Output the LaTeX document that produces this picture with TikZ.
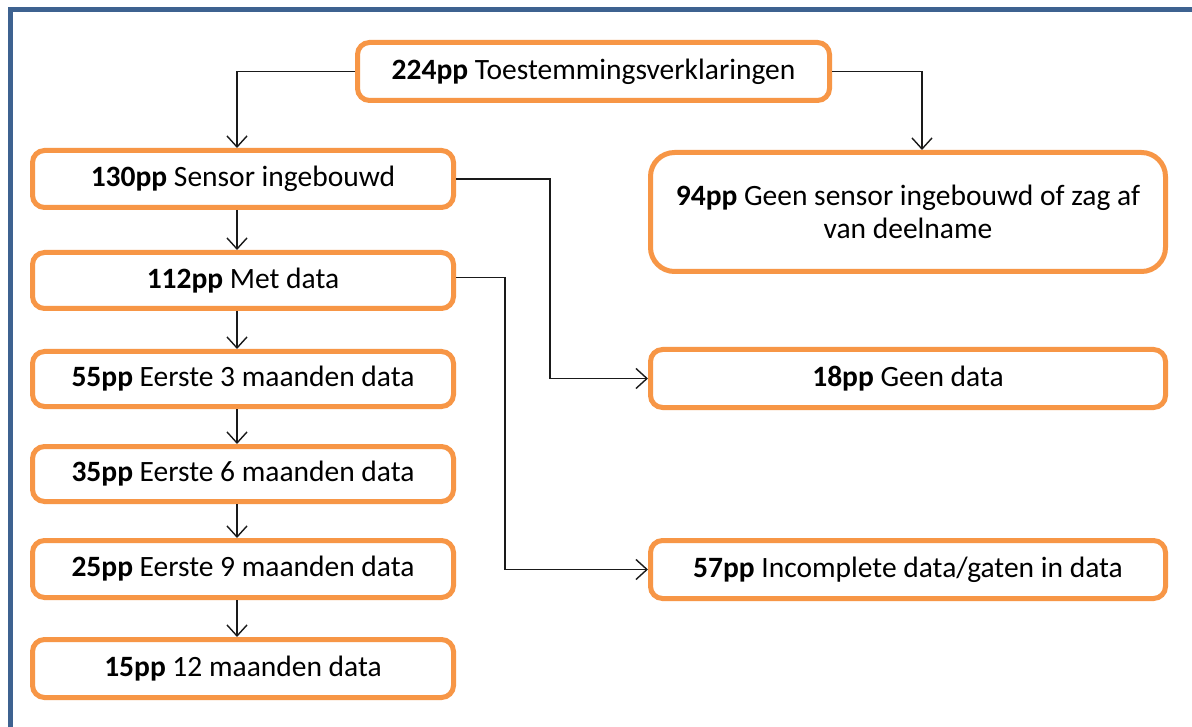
\documentclass[tikz,border=0pt]{standalone}
\usepackage{fontspec}
\setmainfont{Carlito}
\usetikzlibrary{arrows.meta}
\definecolor{boxorange}{HTML}{F79646}
\definecolor{frameblue}{HTML}{3E6290}
\definecolor{linegray}{HTML}{1A1A1A}
\tikzset{
  stagebox/.style={draw=boxorange, line width=5pt, rounded corners=12pt, fill=white,
    minimum width=421pt, minimum height=57pt, inner sep=0pt, align=center,
    font=\fontsize{29.5}{33}\selectfont, text=black},
  widebox/.style={stagebox, minimum width=515pt},
  flow/.style={draw=linegray, line width=1.4pt, -{Straight Barb[length=11pt,width=20pt,line width=1.4pt]}}
}
\begin{document}
\begin{tikzpicture}[x=1pt,y=-1pt]
\useasboundingbox (0,0) rectangle (1192,727);
\fill[white] (0,0) rectangle (1192,727);
% outer frame (runs past the right and lower edges)
\draw[frameblue, line width=5pt] (10.5,1000) -- (10.5,10) -- (1400,10);

% flow stages
\node[stagebox, minimum width=472pt, minimum height=58pt] (total) at (593.5,71.5) {\textbf{224pp} Toestemmingsverklaringen};
\node[stagebox] (sensor) at (243,179) {\textbf{130pp} Sensor ingebouwd};
\node[stagebox, minimum height=56pt] (withdata) at (243,280.5) {\textbf{112pp} Met data};
\node[stagebox, minimum height=55pt] (m3) at (243,379) {\textbf{55pp} Eerste 3 maanden data};
\node[stagebox, minimum height=55pt] (m6) at (243,474) {\textbf{35pp} Eerste 6 maanden data};
\node[stagebox] (m9) at (243,569) {\textbf{25pp} Eerste 9 maanden data};
\node[stagebox, minimum height=58pt] (m12) at (243,668.5) {\textbf{15pp} 12 maanden data};

\node[widebox, minimum height=119pt, rounded corners=24pt] (nosensor) at (908,212)
  {\textbf{94pp} Geen sensor ingebouwd of zag af\\van deelname};
\node[widebox, minimum height=58pt] (nodata) at (908,378.5) {\textbf{18pp} Geen data};
\node[widebox, minimum height=58pt] (gaps) at (908,569.5) {\textbf{57pp} Incomplete data/gaten in data};

% connectors
\draw[flow] (total.west) -| ([xshift=-6pt]sensor.north);
\draw[flow] (total.east) -| ([xshift=14pt]nosensor.north);
\draw[flow] ([xshift=-6pt]sensor.south) -- ([xshift=-6pt]withdata.north);
\draw[flow] ([xshift=-6pt]withdata.south) -- ([xshift=-6pt]m3.north);
\draw[flow] ([xshift=-6pt]m3.south) -- ([xshift=-6pt]m6.north);
\draw[flow] ([xshift=-6pt]m6.south) -- ([xshift=-6pt]m9.north);
\draw[flow] ([xshift=-6pt]m9.south) -- ([xshift=-6pt]m12.north);
\draw[flow] (sensor.east) -- ++(94,0) |- (nodata.west);
\draw[flow] ([yshift=3pt]withdata.east) -- ++(49,0) |- (gaps.west);
\end{tikzpicture}
\end{document}
